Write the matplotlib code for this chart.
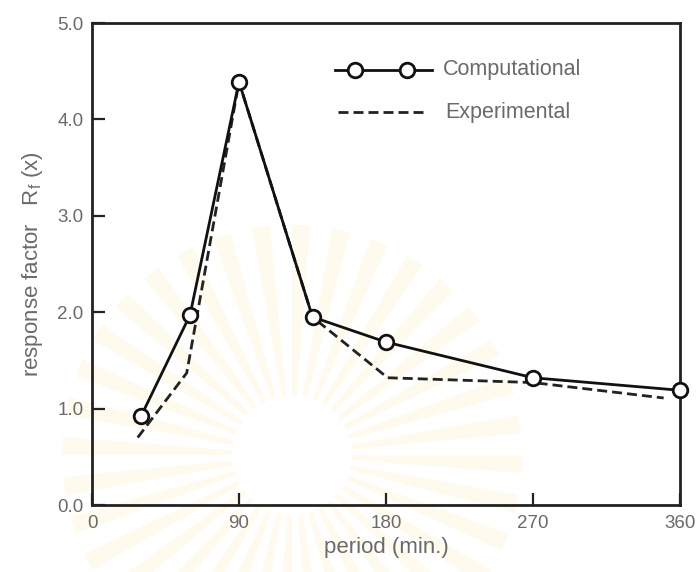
import numpy as np
import matplotlib
matplotlib.use("Agg")
import matplotlib.pyplot as plt
from matplotlib.patches import Wedge, Circle

plt.rcParams['font.family'] = ['Liberation Sans', 'DejaVu Sans']
plt.rcParams['mathtext.fontset'] = 'custom'
plt.rcParams['mathtext.rm'] = 'Liberation Sans'
plt.rcParams['mathtext.it'] = 'Liberation Sans:italic'

# Response factor vs. period
comp_period = [30, 60, 90, 135, 180, 270, 360]
comp_rf = [0.92, 1.97, 4.39, 1.95, 1.69, 1.32, 1.19]

exp_period = [28, 58, 90, 135, 181, 270, 350]
exp_rf = [0.70, 1.37, 4.39, 1.95, 1.32, 1.27, 1.11]

x_ticks = [0, 90, 180, 270, 360]
y_ticks = [0.0, 1.0, 2.0, 3.0, 4.0, 5.0]
y_ticklabels = ['0.0', '1.0', '2.0', '3.0', '4.0', '5.0']

W, H = 699, 572
fig = plt.figure(figsize=(W / 100, H / 100), dpi=100)
fig.patch.set_facecolor('white')

# faint sunburst emblem printed behind the plot
bg = fig.add_axes([0, 0, 1, 1], zorder=0)
bg.set_xlim(0, W)
bg.set_ylim(H, 0)
bg.axis('off')
cx, cy = 292, 455
n_rays = 36
for k in range(n_rays):
    a0 = k * 360 / n_rays
    bg.add_patch(Wedge((cx, cy), 230, a0, a0 + 360 / n_rays * 0.45, width=170,
                       facecolor='#fefaee', edgecolor='none'))
bg.add_patch(Circle((cx, cy), 58, facecolor='white', edgecolor='none'))

ax = fig.add_axes([92 / W, 1 - 505 / H, (680 - 92) / W, (505 - 23) / H], zorder=1)
ax.set_facecolor('none')

LW = 2.0
DASH = (0, (3.6, 1.8))

ax.plot(comp_period, comp_rf, color='#111111', lw=LW, marker='o', ms=10.5,
        mfc='white', mec='#111111', mew=2.0, zorder=4, clip_on=False)
ax.plot(exp_period, exp_rf, color='#222222', lw=LW, ls=DASH, zorder=3)

ax.set_xlim(0, 360)
ax.set_ylim(0, 5)
ax.set_xticks(x_ticks)
ax.set_yticks(y_ticks)
ax.set_yticklabels(y_ticklabels)

for s in ax.spines.values():
    s.set_linewidth(2.0)
    s.set_color('#222222')

ax.tick_params(direction='in', length=9, width=1.6, color='#222222',
               labelsize=13.5, labelcolor='#6a6a6a')
ax.tick_params(axis='x', pad=7)
ax.tick_params(axis='y', pad=6)

ax.set_xlabel('period (min.)', fontsize=16, color='#6a6a6a', labelpad=4)
ax.set_ylabel(r'response factor   R$_{\mathregular{f}}$ (x)', fontsize=16,
              color='#6a6a6a', labelpad=9)

# legend drawn in axes coordinates
tr = ax.transAxes
ax.plot([0.413, 0.578], [0.9025, 0.9025], color='#111111', lw=LW, transform=tr)
ax.plot([0.447, 0.536], [0.9025, 0.9025], ls='none', marker='o', ms=10.5,
        mfc='white', mec='#111111', mew=2.0, transform=tr)
ax.text(0.597, 0.9025, 'Computational', transform=tr, fontsize=15.5,
        color='#6a6a6a', va='center', ha='left')
ax.plot([0.418, 0.571], [0.815, 0.815], color='#222222', lw=LW,
        ls=DASH, transform=tr)
ax.text(0.600, 0.815, 'Experimental', transform=tr, fontsize=15.5,
        color='#6a6a6a', va='center', ha='left')

fig.savefig('out.png', dpi=100, facecolor='white')
